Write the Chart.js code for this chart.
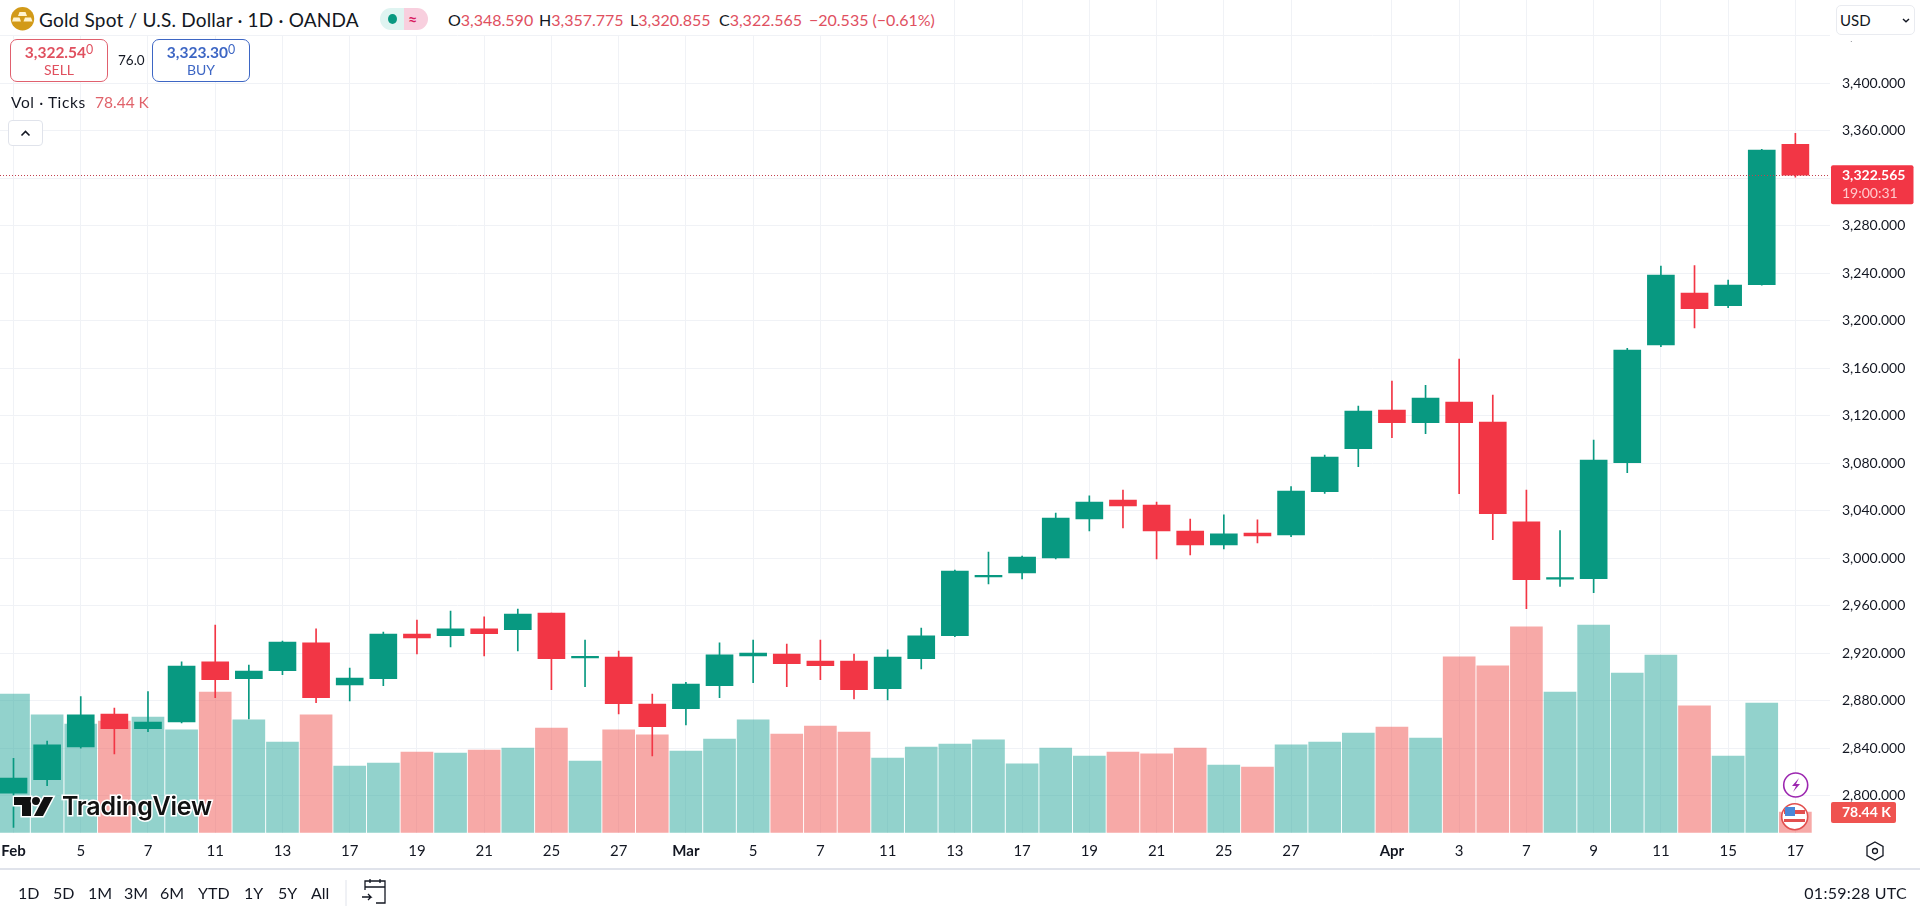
<!DOCTYPE html>
<html>
<head>
<meta charset="utf-8">
<title>Gold Spot / U.S. Dollar</title>
<script src="https://cdn.jsdelivr.net/npm/chart.js@4"></script>
<style>
  html, body { margin: 0; padding: 0; background: #fff; width: 1920px; height: 910px; overflow: hidden; }
  body { font-family: Lato, "Open Sans", sans-serif; color: #131722; position: relative; }
  #chartCandle { position: absolute; left: 0; top: 0; }
  .t { position: absolute; white-space: nowrap; line-height: 20px; height: 20px; }
  .red { color: #e0505f; }
  .box { position: absolute; box-sizing: border-box; background: #fff; border-radius: 7px; }
  sup { font-size: 0.8em; font-weight: 400; line-height: 0; vertical-align: 0.3em; }
  svg { position: absolute; overflow: visible; }
</style>
</head>
<body>
<canvas id="chartCandle" width="1920" height="868"></canvas>

<!-- header -->
<div style="position:absolute;left:0;top:0;width:945px;height:35px;background:#fff"></div>
<div style="position:absolute;left:1835px;top:0;width:85px;height:40.5px;background:#fff"></div>
<svg style="left:0;top:0" width="40" height="40">
  <circle cx="22.5" cy="18.7" r="11.7" fill="#d29a18"/>
  <path d="M19.5 12h6l1.5 4h-9zM13.5 17.5h6l1.5 4h-9zM25 17.5h6l1.5 4h-9z" fill="#fff3cf"/>
</svg>
<div class="t" style="left:39px;top:10px;font-size:19px;letter-spacing:0.2px">Gold Spot / U.S. Dollar · 1D · OANDA</div>
<div style="position:absolute;left:380px;top:8px;width:24px;height:22px;background:#dff4f1;border-radius:11px 0 0 11px"></div>
<div style="position:absolute;left:404px;top:8px;width:24px;height:22px;background:#f8cfde;border-radius:0 11px 11px 0"></div>
<div style="position:absolute;left:388px;top:14px;width:9px;height:10px;background:#089981;border-radius:50%"></div>
<div class="t" style="left:408px;top:9px;font-size:16px;font-weight:700;color:#d81b60">≈</div>
<div class="t" style="left:448px;top:10px;font-size:16px">O<span class="red">3,348.590</span></div>
<div class="t" style="left:539px;top:10px;font-size:16px">H<span class="red">3,357.775</span></div>
<div class="t" style="left:630px;top:10px;font-size:16px">L<span class="red">3,320.855</span></div>
<div class="t" style="left:719px;top:10px;font-size:16px">C<span class="red">3,322.565</span></div>
<div class="t red" style="left:809px;top:10px;font-size:16px">−20.535 (−0.61%)</div>

<div class="box" style="left:10px;top:39px;width:98px;height:43px;border:1.5px solid #e0606e"></div>
<div class="t" style="left:10px;width:98px;text-align:center;top:42px;font-size:15.5px;font-weight:700;color:#e0505f">3,322.54<sup>0</sup></div>
<div class="t" style="left:10px;width:98px;text-align:center;top:60px;font-size:14px;color:#e0505f">SELL</div>
<div class="t" style="left:118px;top:50px;font-size:13.5px">76.0</div>
<div class="box" style="left:152px;top:39px;width:98px;height:43px;border:1.5px solid #3d66c4"></div>
<div class="t" style="left:152px;width:98px;text-align:center;top:42px;font-size:15.5px;font-weight:700;color:#3d66c4">3,323.30<sup>0</sup></div>
<div class="t" style="left:152px;width:98px;text-align:center;top:60px;font-size:14px;color:#3d66c4">BUY</div>
<div class="t" style="left:11px;top:92px;font-size:15.5px;letter-spacing:0.6px">Vol · Ticks</div>
<div class="t" style="left:95px;top:92px;font-size:15.5px;color:#e0626a">78.44 K</div>
<div class="box" style="left:8px;top:120px;width:35px;height:26px;border:1px solid #e0e3eb;border-radius:4px"></div>
<svg style="left:0;top:0" width="50" height="150"><path d="M21.5 135.5l4-4 4 4" fill="none" stroke="#131722" stroke-width="1.6"/></svg>

<div class="box" style="left:1836px;top:5px;width:79px;height:30px;border:1px solid #e9ebf0;border-radius:5px"></div>
<div class="t" style="left:1840px;top:10px;font-size:15px">USD</div>
<svg style="left:0;top:0" width="1920" height="40"><path d="M1903 19l3 2.8 3-2.8" fill="none" stroke="#131722" stroke-width="1.4"/></svg>

<!-- watermark -->
<svg style="left:0;top:0" width="240" height="840">
  <g fill="#111" stroke="#fff" stroke-width="3" paint-order="stroke">
    <path d="M14 797H31V816H22V805H14Z"/>
    <circle cx="36" cy="801" r="4"/>
    <path d="M44 797H53L43 816H34Z"/>
    <text x="62" y="815" font-family="Inter" font-weight="600" font-size="25" textLength="150">TradingView</text>
  </g>
</svg>

<!-- event markers -->
<svg style="left:0;top:0" width="1830" height="840">
  <circle cx="1795.7" cy="785" r="12" fill="#fff" stroke="#9c27b0" stroke-width="1.6"/>
  <path d="M1799 778l-7 8h4l-3 6 7-8h-4z" fill="#9c27b0"/>
  <circle cx="1794.7" cy="816.7" r="13" fill="#fff" stroke="#e2504f" stroke-width="1.6"/>
  <path d="M1784 810h21v4h-21zM1784 819h21v3h-21z" fill="#e2504f"/>
  <rect x="1785" y="807" width="10" height="9" fill="#4a88d8"/>
</svg>

<!-- bottom -->
<div style="position:absolute;left:0;top:868px;width:1920px;height:1.5px;background:#e0e3eb"></div>
<svg style="left:0;top:0" width="1920" height="910">
  <path d="M1875 842l8 4.5v9l-8 4.5-8-4.5v-9z" fill="none" stroke="#131722" stroke-width="1.3"/>
  <circle cx="1875" cy="851" r="2.5" fill="none" stroke="#131722" stroke-width="1.3"/>
  <path d="M346 880v26" stroke="#e0e3eb" stroke-width="1"/>
  <path d="M365 890v-9h20v22h-9M365 887h20M370 879v4M380 879v4M362 897h9l-3-3m3 3l-3 3" fill="none" stroke="#131722" stroke-width="1.3"/>
</svg>
<div id="rangeBar"></div>
<div class="t" style="right:13px;top:883px;font-size:16px;letter-spacing:0.3px">01:59:28 UTC</div>

<script>
var categories = ["Feb 3", "Feb 4", "Feb 5", "Feb 6", "Feb 7", "Feb 10", "Feb 11", "Feb 12", "Feb 13", "Feb 14",
  "Feb 17", "Feb 18", "Feb 19", "Feb 20", "Feb 21", "Feb 24", "Feb 25", "Feb 26", "Feb 27", "Feb 28",
  "Mar 3", "Mar 4", "Mar 5", "Mar 6", "Mar 7", "Mar 10", "Mar 11", "Mar 12", "Mar 13", "Mar 14",
  "Mar 17", "Mar 18", "Mar 19", "Mar 20", "Mar 21", "Mar 24", "Mar 25", "Mar 26", "Mar 27", "Mar 28",
  "Mar 31", "Apr 1", "Apr 2", "Apr 3", "Apr 4", "Apr 7", "Apr 8", "Apr 9", "Apr 10", "Apr 11",
  "Apr 14", "Apr 15", "Apr 16", "Apr 17"];

var openValues = [2802, 2813.5, 2841, 2868.8, 2856.4, 2862, 2912.6, 2898.5, 2905.3, 2928.6,
  2893.2, 2898.5, 2936.1, 2934.7, 2940.4, 2939.8, 2953.8, 2916, 2916.8, 2877.2,
  2873.3, 2892.6, 2917.6, 2919.3, 2913.4, 2913.4, 2890.1, 2915.4, 2934.7, 2984.3,
  2987.5, 3000.2, 3033, 3049, 3044.8, 3022.9, 3011.1, 3021.2, 3019.5, 3056,
  3092.2, 3124.8, 3114.1, 3131.5, 3114.7, 3030.5, 2982.4, 2982.7, 3080.4, 3179.5,
  3223.3, 3212.6, 3230.3, 3348.59];

var closeValues = [2814.9, 2842.7, 2868, 2856.4, 2862, 2909.2, 2897.7, 2905, 2929.4, 2882.5,
  2899.1, 2936.1, 2932.8, 2940.4, 2936.4, 2953, 2915.4, 2916.5, 2877.5, 2858.1,
  2894, 2918.5, 2920.1, 2911.2, 2909.5, 2889.3, 2916.8, 2934.5, 2989.2, 2985.1,
  3001, 3033.8, 3047.3, 3043.9, 3022.9, 3011.1, 3020.4, 3018.7, 3056.6, 3085.2,
  3123.9, 3114.1, 3134.9, 3114.1, 3037.5, 2981.9, 2983.2, 3082.7, 3175.3, 3238.5,
  3210.1, 3230, 3343.7, 3322.565];

var highValues = [2831.4, 2846, 2883.4, 2873.8, 2887.6, 2912.6, 2943.7, 2910, 2930.2, 2940.4,
  2907.5, 2937.8, 2947.9, 2955.5, 2950.5, 2957.2, 2953.8, 2931.1, 2921.8, 2885.6,
  2895.4, 2928.6, 2931.1, 2927.7, 2931.1, 2919.3, 2922.7, 2941.2, 2990, 3005.2,
  3001.8, 3038, 3052.4, 3057.4, 3047.3, 3033, 3036.4, 3032.2, 3060.2, 3086.9,
  3128.1, 3149.2, 3145.5, 3167.7, 3137.4, 3057.4, 3023.2, 3099.5, 3176.7, 3246,
  3246.3, 3234.2, 3344.2, 3357.775];

var lowValues = [2773.3, 2808.4, 2839.9, 2835.1, 2853.9, 2861.2, 2882.5, 2864.6, 2901.9, 2878.3,
  2879.7, 2892.6, 2919.3, 2925.2, 2917.6, 2921.8, 2889.3, 2891.8, 2868.8, 2833.4,
  2859.5, 2882.5, 2895.2, 2891.8, 2897.7, 2881.4, 2880.6, 2906.7, 2933.9, 2978.3,
  2982.5, 2999.3, 3022.9, 3025.4, 2999.3, 3002.7, 3007.7, 3012.8, 3018.1, 3054.6,
  3077.1, 3101.5, 3104.8, 3054.3, 3015.6, 2957.5, 2976.3, 2970.9, 3072, 3178.1,
  3193.8, 3211, 3229.9, 3320.855];

// in thousands of ticks
var volumeValues = [526, 447, 412, 424, 439, 390, 534, 428, 344, 447,
  253, 264, 306, 302, 314, 321, 397, 272, 390, 371,
  310, 355, 428, 374, 405, 382, 283, 325, 336, 352,
  261, 321, 291, 306, 299, 321, 257, 249, 333, 344,
  378, 401, 359, 667, 633, 781, 534, 788, 606, 674,
  481, 291, 492, 78.44];

var priceTicks = [2800, 2840, 2880, 2920, 2960, 3000, 3040, 3080, 3120, 3160, 3200, 3240, 3280, 3320, 3360, 3400, 3440];
var xTickIndex = [0, 2, 4, 6, 8, 10, 12, 14, 16, 18, 20, 22, 24, 26, 28, 30, 32, 34, 36, 38, 41, 43, 45, 47, 49, 51, 53];
var xTickLabels = ["Feb", "5", "7", "11", "13", "17", "19", "21", "25", "27", "Mar", "5", "7", "11", "13", "17", "19", "21", "25", "27", "Apr", "3", "7", "9", "11", "15", "17"];
var monthLabels = ["Feb", "Mar", "Apr"];
var rangeButtons = ["1D", "5D", "1M", "3M", "6M", "YTD", "1Y", "5Y", "All"];
var rangeButtonX = [18, 53, 88, 124, 160, 198, 244, 278, 311];

var lastPrice = 3322.565;
var lastVolume = 78.44;

var fontName = 'Lato, "Open Sans", sans-serif';

function isUp(i) {
  return closeValues[i] >= openValues[i];
}

// no room kept for half a tick label, the plot runs to the canvas edges
function dropScalePadding(scale) {
  scale.paddingLeft = 0;
  scale.paddingRight = 0;
  scale.paddingTop = 0;
  scale.paddingBottom = 0;
}

// dotted last price line and the two red tags on the right axis
var lastValueTags = {
  id: 'lastValueTags',
  afterDraw: function (chart) {
    var ctx = chart.ctx;
    var y = chart.scales.y.getPixelForValue(lastPrice);
    var yVol = chart.scales.yVolume.getPixelForValue(lastVolume);
    var right = chart.chartArea.right;

    ctx.save();
    ctx.strokeStyle = '#c2404f';
    ctx.lineWidth = 1;
    ctx.setLineDash([1, 2]);
    ctx.beginPath();
    ctx.moveTo(0, Math.round(y) + 0.5);
    ctx.lineTo(right, Math.round(y) + 0.5);
    ctx.stroke();
    ctx.setLineDash([]);

    ctx.fillStyle = '#f23645';
    ctx.beginPath();
    ctx.roundRect(right + 1, y - 10, 82.5, 39, 2);
    ctx.fill();
    ctx.fillStyle = '#ef5350';
    ctx.beginPath();
    ctx.roundRect(right + 1, yVol - 10, 65, 21, 2);
    ctx.fill();

    ctx.textBaseline = 'middle';
    ctx.textAlign = 'left';
    ctx.font = '700 14px ' + fontName;
    ctx.fillStyle = '#fff';
    ctx.fillText('3,322.565', right + 12, y);
    ctx.font = '14px ' + fontName;
    ctx.fillStyle = '#ffc9cd';
    ctx.fillText('19:00:31', right + 12, y + 18);
    ctx.font = '700 14px ' + fontName;
    ctx.fillStyle = '#fff';
    ctx.fillText('78.44 K', right + 12, yVol);
    ctx.restore();
  }
};

function insertCandleChart() {
  var xy = function (i, y) { return { x: i, y: y }; };

  new Chart(document.getElementById('chartCandle'), {
    type: 'bar',
    data: {
      datasets: [
        {
          label: 'Open / Close',
          order: 1,
          yAxisID: 'y',
          barThickness: 27,
          minBarLength: 1.5,
          data: categories.map(function (c, i) { return xy(i, [openValues[i], closeValues[i]]); }),
          backgroundColor: categories.map(function (c, i) { return isUp(i) ? '#089981' : '#f23645'; })
        },
        {
          label: 'High / Low',
          order: 2,
          yAxisID: 'y',
          barThickness: 1,
          data: categories.map(function (c, i) { return xy(i, [lowValues[i], highValues[i]]); }),
          backgroundColor: categories.map(function (c, i) { return isUp(i) ? '#089981' : '#f23645'; })
        },
        {
          label: 'Vol',
          order: 3,
          yAxisID: 'yVolume',
          barThickness: 32,
          data: categories.map(function (c, i) { return xy(i, volumeValues[i]); }),
          backgroundColor: categories.map(function (c, i) { return isUp(i) ? 'rgba(38,166,154,0.5)' : 'rgba(239,83,80,0.5)'; })
        }
      ]
    },
    options: {
      responsive: false,
      animation: false,
      events: [],
      layout: { padding: 0 },
      datasets: { bar: { grouped: false, borderWidth: 0 } },
      plugins: { legend: { display: false }, tooltip: { enabled: false } },
      scales: {
        x: {
          type: 'linear',
          offset: false,
          min: -0.4016,
          max: 54.03,
          afterBuildTicks: function (scale) {
            scale.ticks = xTickIndex.map(function (v) { return { value: v }; });
          },
          afterFit: function (scale) {
            scale.height = 35.3;
            dropScalePadding(scale);
          },
          border: { display: false },
          grid: { offset: false, color: '#f0f2f6', lineWidth: 1, drawTicks: false },
          ticks: {
            autoSkip: false,
            maxRotation: 0,
            padding: 9,
            color: '#131722',
            font: function (ctx) {
              var bold = ctx.tick && monthLabels.indexOf(ctx.tick.label) >= 0;
              return { family: fontName, size: 15, weight: bold ? '700' : '400' };
            },
            callback: function (value, index) { return xTickLabels[index]; }
          }
        },
        y: {
          position: 'right',
          min: 2768.8,
          max: 3470.06,
          afterBuildTicks: function (scale) {
            scale.ticks = priceTicks.map(function (v) { return { value: v }; });
          },
          afterFit: function (scale) {
            scale.width = 90;
            dropScalePadding(scale);
          },
          border: { display: false },
          grid: { color: '#f0f2f6', lineWidth: 1, drawTicks: false },
          ticks: {
            padding: 12,
            color: '#131722',
            font: { family: fontName, size: 14 },
            callback: function (value) {
              return value.toLocaleString('en-US', { minimumFractionDigits: 3, maximumFractionDigits: 3 });
            }
          }
        },
        yVolume: {
          display: false,
          min: 0,
          max: 3160
        }
      }
    },
    plugins: [lastValueTags]
  });
}

function insertRangeBar() {
  var bar = document.getElementById('rangeBar');
  rangeButtons.forEach(function (text, i) {
    var el = document.createElement('div');
    el.className = 't';
    el.style.left = rangeButtonX[i] + 'px';
    el.style.top = '883px';
    el.style.fontSize = '16px';
    el.textContent = text;
    bar.appendChild(el);
  });
}

document.addEventListener('DOMContentLoaded', function () {
  insertCandleChart();
  insertRangeBar();
});
</script>
</body>
</html>
